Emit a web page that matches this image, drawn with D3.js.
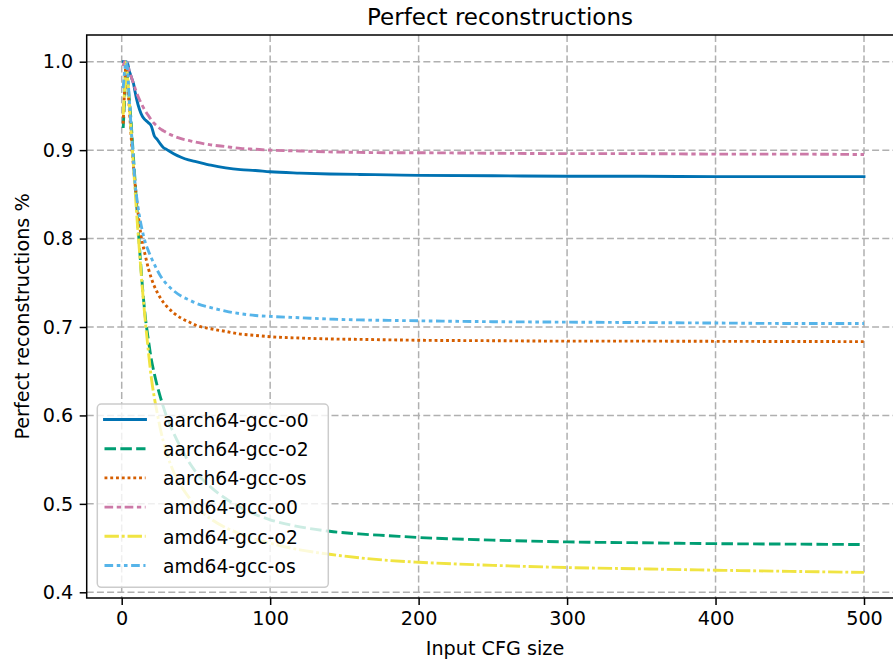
<!DOCTYPE html>
<html>
<head>
<meta charset="utf-8">
<script src="https://cdn.jsdelivr.net/npm/d3@7"></script>
<style>
  html, body { margin: 0; padding: 0; background: #ffffff; }
  svg { display: block; font-family: "DejaVu Sans", sans-serif; }
</style>
</head>
<body>
<svg id="chart" width="893" height="662"></svg>
<script>
// ---------------- data ----------------
const sizes = [1,2,3,4,5,6,7,8,9,10,12,14,16,18,20,22,24,26,28,30,35,40,45,50,60,70,80,90,100,120,140,160,180,200,250,300,350,400,450,500];

const aarch64GccO0 = [1.0,1.0,1.0,0.998,0.99,0.985,0.98,0.975,0.966,0.958,0.946,0.938,0.934,0.931,0.927,0.916,0.912,0.907,0.903,0.901,0.896,0.892,0.889,0.887,0.883,0.880,0.878,0.877,0.8755,0.874,0.873,0.8725,0.872,0.8715,0.871,0.8705,0.8705,0.870,0.870,0.870];
const aarch64GccO2 = [0.925,0.96,1.0,0.98,0.96,0.94,0.915,0.89,0.865,0.84,0.79,0.745,0.71,0.685,0.663,0.647,0.633,0.621,0.61,0.6,0.58,0.563,0.548,0.536,0.519,0.506,0.496,0.488,0.482,0.474,0.469,0.466,0.464,0.462,0.459,0.457,0.456,0.455,0.4545,0.454];
const aarch64GccOs = [0.93,0.97,1.0,0.975,0.95,0.925,0.9,0.88,0.862,0.845,0.815,0.795,0.78,0.766,0.755,0.746,0.739,0.733,0.728,0.724,0.716,0.71,0.706,0.702,0.698,0.695,0.692,0.6905,0.689,0.6875,0.6865,0.686,0.6855,0.685,0.6845,0.684,0.684,0.6838,0.6836,0.6835];
const amd64GccO0 = [0.995,1.0,1.0,0.997,0.99,0.985,0.98,0.975,0.97,0.965,0.957,0.95,0.944,0.939,0.934,0.930,0.927,0.924,0.922,0.920,0.916,0.913,0.911,0.909,0.906,0.904,0.902,0.901,0.900,0.899,0.898,0.8975,0.897,0.897,0.8965,0.896,0.896,0.8955,0.8955,0.895];
const amd64GccO2 = [0.94,0.97,1.0,0.98,0.955,0.93,0.905,0.88,0.855,0.83,0.785,0.742,0.705,0.672,0.642,0.62,0.602,0.585,0.571,0.559,0.536,0.52,0.508,0.497,0.483,0.473,0.466,0.46,0.4555,0.448,0.443,0.439,0.436,0.434,0.4305,0.428,0.4265,0.425,0.4237,0.4225];
const amd64GccOs = [0.97,0.99,1.0,0.99,0.96,0.935,0.91,0.885,0.862,0.848,0.825,0.808,0.795,0.786,0.778,0.771,0.764,0.758,0.753,0.749,0.741,0.735,0.731,0.727,0.722,0.718,0.715,0.713,0.712,0.7105,0.709,0.708,0.7075,0.707,0.706,0.7055,0.705,0.7045,0.704,0.704];

const seriesNames = ["aarch64-gcc-o0","aarch64-gcc-o2","aarch64-gcc-os","amd64-gcc-o0","amd64-gcc-o2","amd64-gcc-os"];
const seriesValues = [aarch64GccO0, aarch64GccO2, aarch64GccOs, amd64GccO0, amd64GccO2, amd64GccOs];
const xTicks = [0,100,200,300,400,500];
const yTicks = [0.4,0.5,0.6,0.7,0.8,0.9,1.0];
const xTickLabels = ["0","100","200","300","400","500"];
const yTickLabels = ["0.4","0.5","0.6","0.7","0.8","0.9","1.0"];

// ---------------- styles ----------------
const colors = ["#0072B2","#009E73","#D55E00","#CC79A7","#F0E442","#56B4E9"];
const lw = 2.88;
const dashUnits = [null,[4,1.5],[1,1],[3,1.25,1.5,1.25],[5,1,1,1],[3,1.25,1.25,1.25,1.25,1.25]];
const dashArr = dashUnits.map(d => d ? d.map(v => (v*lw).toFixed(2)).join(",") : null);

// ---------------- layout ----------------
const svg = d3.select("#chart");
const x = d3.scaleLinear().domain([0, 500]).range([121.7, 864]);
const y = d3.scaleLinear().domain([0.4, 1.0]).range([592.3, 61.7]);
const frame = {left: 86.7, right: 904.4, top: 35, bottom: 598};

svg.append("rect").attr("width", 893).attr("height", 662).attr("fill", "#fff");

// grid
const grid = svg.append("g");
grid.selectAll("line.gx").data(xTicks).join("line")
  .attr("x1", d => x(d)).attr("x2", d => x(d))
  .attr("y1", frame.top).attr("y2", frame.bottom)
  .attr("stroke", "#b0b0b0").attr("stroke-width", 1.5).attr("stroke-dasharray", "7,3.2");
grid.selectAll("line.gy").data(yTicks).join("line")
  .attr("y1", d => y(d)).attr("y2", d => y(d))
  .attr("x1", frame.left).attr("x2", frame.right)
  .attr("stroke", "#b0b0b0").attr("stroke-width", 1.5).attr("stroke-dasharray", "7,3.2");

// lines
const line = d3.line().x(d => x(d[0])).y(d => y(d[1])).curve(d3.curveMonotoneX);
const linesG = svg.append("g");
seriesValues.forEach((vals, i) => {
  const pts = sizes.map((s, j) => [s, vals[j]]);
  const p = linesG.append("path").datum(pts)
    .attr("d", line)
    .attr("fill", "none")
    .attr("stroke", colors[i])
    .attr("stroke-width", lw)
    .attr("stroke-linejoin", "round")
    .attr("stroke-linecap", dashArr[i] ? "butt" : "square");
  if (dashArr[i]) p.attr("stroke-dasharray", dashArr[i]);
});

// axes
const xAxis = d3.axisBottom(x).tickValues(xTicks).tickFormat((d, i) => xTickLabels[i]).tickSize(7).tickPadding(6);
const yAxis = d3.axisLeft(y).tickValues(yTicks).tickFormat((d, i) => yTickLabels[i]).tickSize(7).tickPadding(6.5);
const gx = svg.append("g").attr("transform", `translate(0,${frame.bottom})`).call(xAxis);
const gy = svg.append("g").attr("transform", `translate(${frame.left},0)`).call(yAxis);
[gx, gy].forEach(g => {
  g.select(".domain").remove();
  g.selectAll(".tick line").attr("stroke", "#000").attr("stroke-width", 1.5);
  g.selectAll(".tick text").attr("fill", "#000").style("font-size", "19.2px").style("font-family", "DejaVu Sans");
});

// legend
const legend = svg.append("g");
legend.append("rect")
  .attr("x", 97.3).attr("y", 404).attr("width", 231).attr("height", 183.3)
  .attr("rx", 4).attr("ry", 4)
  .attr("fill", "#fff").attr("fill-opacity", 0.8)
  .attr("stroke", "#cccccc").attr("stroke-width", 1.5);
seriesNames.forEach((name, i) => {
  const yy = 419.5 + i * 29.2;
  const l = legend.append("line")
    .attr("x1", 104.5).attr("x2", 145.5).attr("y1", yy).attr("y2", yy)
    .attr("stroke", colors[i]).attr("stroke-width", lw)
    .attr("stroke-linecap", dashArr[i] ? "butt" : "square");
  if (dashArr[i]) l.attr("stroke-dasharray", dashArr[i]);
  legend.append("text")
    .attr("x", 163).attr("y", yy + 7.2)
    .style("font-size", "18.7px").attr("fill", "#000")
    .text(name);
});

// spines
const sp = svg.append("g").attr("stroke", "#000").attr("stroke-width", 1.5).attr("fill", "none");
sp.append("rect").attr("x", frame.left).attr("y", frame.top)
  .attr("width", frame.right - frame.left).attr("height", frame.bottom - frame.top);

// labels
svg.append("text").attr("x", 500).attr("y", 25).attr("text-anchor", "middle")
  .style("font-size", "23px").attr("fill", "#000").text("Perfect reconstructions");
svg.append("text").attr("x", 495).attr("y", 655).attr("text-anchor", "middle")
  .style("font-size", "19.2px").attr("fill", "#000").text("Input CFG size");
svg.append("text").attr("transform", "translate(29,316.5) rotate(-90)").attr("text-anchor", "middle")
  .style("font-size", "19.2px").attr("fill", "#000").text("Perfect reconstructions %");
</script>
</body>
</html>
